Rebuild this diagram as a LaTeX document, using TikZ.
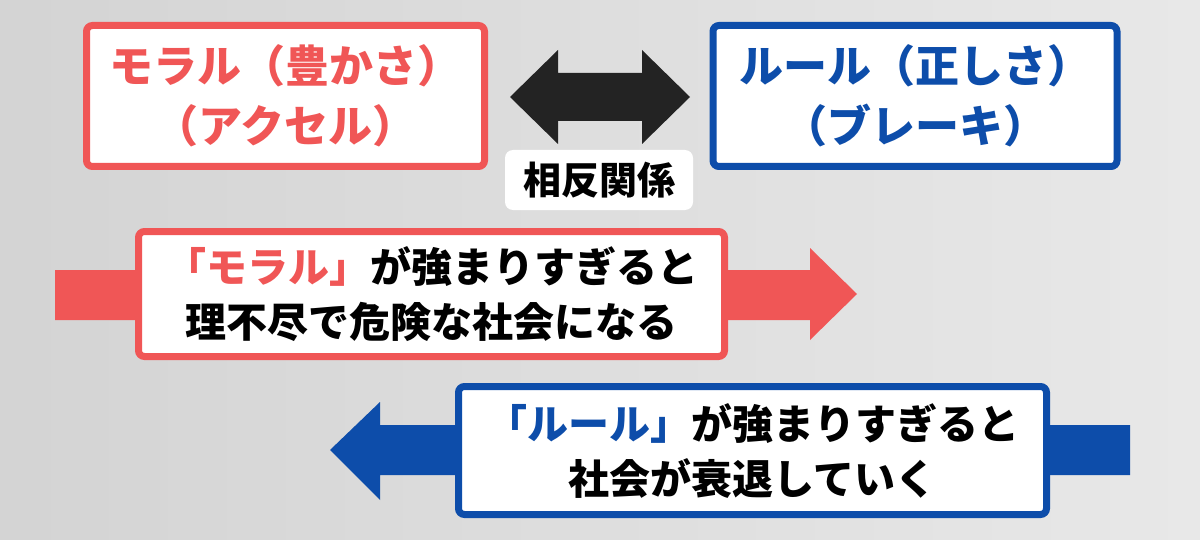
\documentclass[tikz,border=0pt]{standalone}
\usepackage{fontspec}
\setmainfont{Noto Sans CJK JP}
\definecolor{mred}{HTML}{F05656}
\definecolor{mblue}{HTML}{0D4DAA}
\definecolor{mblack}{HTML}{232323}
\tikzset{
  framebox/.style={draw, line width=3.5pt, fill=white, rounded corners=3pt, align=center, inner sep=0pt, font=\bfseries},
  labelbox/.style={fill=white, rounded corners=4pt, align=center, inner sep=0pt, font=\bfseries\fontsize{19pt}{22pt}\selectfont, text=black},
  bigarrow/.style={draw=none}
}
\begin{document}
\begin{tikzpicture}[x=0.5pt,y=-0.5pt]
\useasboundingbox (0,0) rectangle (1200,540);
\shade[left color=black!17, right color=black!9] (0,0) rectangle (1200,540);
% double arrow
\fill[mblack] (510,97) -- (558,50) -- (558,73) -- (642,73) -- (642,50) -- (690,97) -- (642,144) -- (642,121) -- (558,121) -- (558,144) -- cycle;
% red arrow
\fill[mred] (55,270) -- (810,270) -- (810,248) -- (857,294) -- (810,340) -- (810,320) -- (55,320) -- cycle;
% blue arrow
\fill[mblue] (1130,425) -- (380,425) -- (380,402) -- (330,450) -- (380,500) -- (380,475) -- (1130,475) -- cycle;
% top boxes
\node[framebox, draw=mred, text=mred, minimum width=199pt, minimum height=70.5pt,
  font=\bfseries\fontsize{22pt}{30pt}\selectfont] (moral) at (285.5,96) {モラル（豊かさ）\\（アクセル）};
\node[framebox, draw=mblue, text=mblue, minimum width=202pt, minimum height=70.5pt,
  font=\bfseries\fontsize{22pt}{30pt}\selectfont] (rule) at (915,96) {ルール（正しさ）\\（ブレーキ）};
\node[labelbox, minimum width=94pt, minimum height=30pt] (rel) at (599,180) {相反関係};
% middle boxes
\node[framebox, draw=mred, text=black, minimum width=293pt, minimum height=62.5pt,
  font=\bfseries\fontsize{20.5pt}{27.5pt}\selectfont] (moraltoo) at (431.5,294)
  {{\color{mred}「モラル」}が強まりすぎると\\理不尽で危険な社会になる};
\node[framebox, draw=mblue, text=black, minimum width=294pt, minimum height=64pt,
  font=\bfseries\fontsize{20.5pt}{27.5pt}\selectfont] (ruletoo) at (752.5,450.5)
  {{\color{mblue}「ルール」}が強まりすぎると\\社会が衰退していく};
\end{tikzpicture}
\end{document}
